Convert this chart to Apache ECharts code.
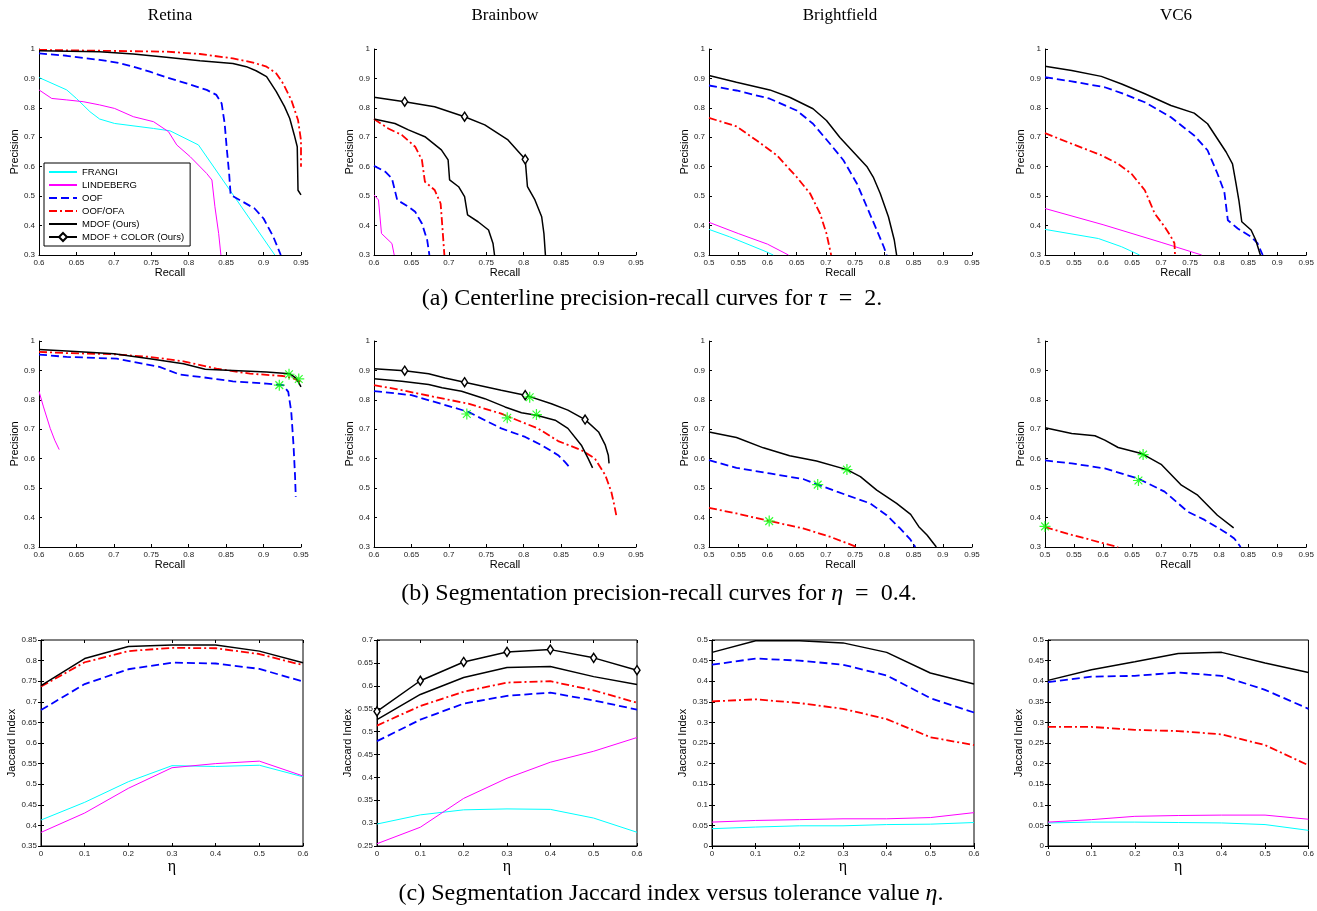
<!DOCTYPE html>
<html>
<head>
<meta charset="utf-8">
<script src="https://cdn.jsdelivr.net/npm/echarts@6/dist/echarts.min.js"></script>
<style>
  html, body { margin: 0; padding: 0; background: #fff; }
  #chart { width: 1317px; height: 911px; }
</style>
</head>
<body>
<div id="chart"></div>
<script>
// ---- row (a): centerline precision-recall, [recall, precision] ----
const retinaA_frangi = [[0.6,0.903],[0.637,0.861],[0.65,0.832],[0.668,0.787],[0.681,0.762],[0.701,0.747],[0.753,0.730],[0.775,0.722],[0.813,0.674],[0.86,0.502],[0.915,0.3]]
const retinaA_lindeberg = [[0.6,0.861],[0.617,0.832],[0.637,0.827],[0.659,0.821],[0.681,0.810],[0.701,0.798],[0.726,0.770],[0.753,0.753],[0.773,0.719],[0.784,0.674],[0.802,0.634],[0.824,0.577],[0.831,0.555],[0.835,0.464],[0.84,0.373],[0.843,0.3]]
const retinaA_oof = [[0.6,0.985],[0.637,0.977],[0.681,0.963],[0.704,0.954],[0.726,0.940],[0.748,0.923],[0.77,0.904],[0.797,0.883],[0.824,0.861],[0.837,0.844],[0.844,0.815],[0.848,0.747],[0.851,0.657],[0.854,0.577],[0.856,0.504],[0.868,0.487],[0.888,0.458],[0.9,0.424],[0.913,0.362],[0.923,0.3]]
const retinaA_oofofa = [[0.6,0.997],[0.681,0.994],[0.77,0.991],[0.815,0.983],[0.859,0.968],[0.886,0.954],[0.904,0.940],[0.917,0.917],[0.926,0.883],[0.937,0.827],[0.946,0.759],[0.95,0.69],[0.95,0.6]]
const retinaA_mdof = [[0.6,0.994],[0.681,0.991],[0.726,0.983],[0.77,0.972],[0.815,0.960],[0.859,0.951],[0.877,0.94],[0.89,0.926],[0.904,0.906],[0.917,0.855],[0.928,0.804],[0.935,0.764],[0.941,0.708],[0.945,0.668],[0.946,0.52],[0.95,0.504]]

const brainbowA_lindeberg = [[0.6,0.504],[0.606,0.487],[0.61,0.373],[0.624,0.339],[0.627,0.3]]
const brainbowA_oof = [[0.6,0.603],[0.615,0.583],[0.624,0.560],[0.631,0.487],[0.646,0.464],[0.655,0.447],[0.664,0.407],[0.671,0.351],[0.674,0.3]]
const brainbowA_oofofa = [[0.6,0.762],[0.619,0.730],[0.637,0.708],[0.655,0.668],[0.664,0.623],[0.668,0.549],[0.681,0.521],[0.689,0.475],[0.691,0.407],[0.694,0.3]]
const brainbowA_mdof = [[0.6,0.762],[0.628,0.747],[0.646,0.725],[0.668,0.702],[0.69,0.657],[0.699,0.623],[0.701,0.555],[0.713,0.532],[0.721,0.498],[0.725,0.436],[0.739,0.413],[0.753,0.385],[0.759,0.339],[0.761,0.3]]
const brainbowA_mdofColor = [[0.6,0.836],[0.641,0.821],[0.681,0.804],[0.721,0.770],[0.748,0.742],[0.779,0.691],[0.802,0.625],[0.805,0.532],[0.815,0.487],[0.824,0.430],[0.827,0.373],[0.829,0.3]]
const brainbowA_marks = [1, 3, 6]

const brightA_frangi = [[0.5,0.387],[0.535,0.362],[0.598,0.311],[0.61,0.3]]
const brightA_lindeberg = [[0.5,0.411],[0.55,0.373],[0.6,0.337],[0.636,0.3]]
const brightA_oof = [[0.5,0.876],[0.547,0.859],[0.604,0.831],[0.65,0.791],[0.678,0.746],[0.707,0.678],[0.730,0.622],[0.753,0.543],[0.770,0.464],[0.787,0.385],[0.799,0.328],[0.804,0.3]]
const brightA_oofofa = [[0.5,0.766],[0.547,0.737],[0.581,0.690],[0.616,0.639],[0.65,0.565],[0.673,0.509],[0.69,0.441],[0.701,0.373],[0.709,0.3]]
const brightA_mdof = [[0.5,0.910],[0.547,0.887],[0.604,0.861],[0.638,0.836],[0.678,0.797],[0.701,0.757],[0.724,0.699],[0.747,0.650],[0.77,0.601],[0.781,0.565],[0.793,0.509],[0.807,0.430],[0.817,0.351],[0.821,0.3]]

const vc6A_frangi = [[0.5,0.387],[0.592,0.356],[0.632,0.328],[0.663,0.3]]
const vc6A_lindeberg = [[0.5,0.458],[0.6,0.403],[0.7,0.343],[0.77,0.3]]
const vc6A_oof = [[0.5,0.904],[0.546,0.890],[0.603,0.870],[0.632,0.850],[0.672,0.819],[0.717,0.768],[0.757,0.706],[0.78,0.656],[0.797,0.577],[0.809,0.514],[0.815,0.418],[0.832,0.390],[0.855,0.362],[0.866,0.340],[0.875,0.3]]
const vc6A_oofofa = [[0.5,0.714],[0.546,0.678],[0.597,0.639],[0.626,0.610],[0.649,0.576],[0.672,0.520],[0.689,0.441],[0.706,0.396],[0.717,0.362],[0.723,0.340],[0.724,0.3]]
const vc6A_mdof = [[0.5,0.941],[0.546,0.927],[0.597,0.907],[0.632,0.881],[0.672,0.848],[0.717,0.808],[0.757,0.782],[0.78,0.746],[0.797,0.695],[0.812,0.650],[0.823,0.610],[0.829,0.543],[0.834,0.486],[0.839,0.413],[0.855,0.385],[0.863,0.351],[0.871,0.3]]

// ---- row (b): segmentation precision-recall ----
const retinaB_lindeberg = [[0.6,0.829],[0.606,0.776],[0.615,0.703],[0.621,0.663],[0.627,0.631]]
const retinaB_oof = [[0.6,0.954],[0.637,0.946],[0.704,0.940],[0.726,0.929],[0.761,0.912],[0.788,0.886],[0.815,0.878],[0.859,0.863],[0.904,0.855],[0.926,0.85],[0.933,0.827],[0.937,0.759],[0.94,0.646],[0.942,0.544],[0.943,0.471]]
const retinaB_oofofa = [[0.6,0.963],[0.637,0.959],[0.7,0.955],[0.748,0.946],[0.793,0.931],[0.837,0.906],[0.882,0.889],[0.926,0.881],[0.939,0.874],[0.95,0.861]]
const retinaB_mdof = [[0.6,0.971],[0.637,0.966],[0.7,0.957],[0.748,0.94],[0.793,0.923],[0.822,0.904],[0.859,0.9],[0.904,0.895],[0.935,0.889],[0.944,0.872],[0.95,0.844]]
const retinaB_stars = [[0.934,0.887],[0.947,0.871],[0.921,0.85]]

const brainbowB_oof = [[0.6,0.830],[0.65,0.816],[0.681,0.793],[0.726,0.759],[0.77,0.703],[0.802,0.674],[0.824,0.646],[0.846,0.612],[0.855,0.589],[0.862,0.569]]
const brainbowB_oofofa = [[0.6,0.850],[0.637,0.833],[0.681,0.81],[0.726,0.787],[0.77,0.753],[0.797,0.725],[0.819,0.703],[0.846,0.66],[0.877,0.629],[0.895,0.601],[0.909,0.544],[0.917,0.488],[0.921,0.442],[0.924,0.403]]
const brainbowB_mdof = [[0.6,0.872],[0.637,0.863],[0.673,0.852],[0.691,0.841],[0.717,0.829],[0.748,0.804],[0.775,0.776],[0.797,0.756],[0.817,0.748],[0.842,0.731],[0.859,0.703],[0.877,0.646],[0.886,0.601],[0.892,0.569]]
const brainbowB_mdofColor = [[0.6,0.906],[0.641,0.899],[0.673,0.889],[0.695,0.874],[0.721,0.86],[0.77,0.833],[0.802,0.816],[0.837,0.787],[0.859,0.765],[0.882,0.733],[0.9,0.691],[0.909,0.646],[0.913,0.612],[0.914,0.584]]
const brainbowB_marks = [1, 4, 6, 9]
const brainbowB_stars = [[0.724,0.752],[0.778,0.739],[0.817,0.75],[0.808,0.809]]

const brightB_oof = [[0.5,0.595],[0.547,0.569],[0.604,0.550],[0.661,0.531],[0.686,0.512],[0.719,0.488],[0.776,0.448],[0.804,0.408],[0.827,0.363],[0.844,0.327],[0.853,0.3]]
const brightB_oofofa = [[0.5,0.433],[0.547,0.414],[0.604,0.388],[0.661,0.363],[0.707,0.335],[0.753,0.3]]
const brightB_mdof = [[0.5,0.691],[0.547,0.672],[0.593,0.637],[0.638,0.610],[0.684,0.592],[0.736,0.563],[0.759,0.539],[0.787,0.493],[0.821,0.448],[0.845,0.411],[0.859,0.369],[0.873,0.341],[0.889,0.3]]
const brightB_stars = [[0.736,0.563],[0.686,0.512],[0.603,0.388]]

const vc6B_oof = [[0.5,0.594],[0.546,0.584],[0.603,0.567],[0.66,0.533],[0.706,0.488],[0.746,0.42],[0.775,0.392],[0.809,0.352],[0.826,0.329],[0.837,0.3]]
const vc6B_oofofa = [[0.5,0.368],[0.546,0.341],[0.626,0.3]]
const vc6B_mdof = [[0.5,0.705],[0.546,0.686],[0.586,0.678],[0.603,0.663],[0.626,0.638],[0.666,0.618],[0.7,0.581],[0.735,0.510],[0.763,0.476],[0.797,0.408],[0.825,0.365]]
const vc6B_stars = [[0.669,0.614],[0.661,0.526],[0.5,0.37]]

// ---- row (c): jaccard index vs eta ----
const eta = [0, 0.1, 0.2, 0.3, 0.4, 0.5, 0.6]
const retinaC_frangi = [0.413, 0.456, 0.506, 0.545, 0.543, 0.546, 0.518]
const retinaC_lindeberg = [0.383, 0.430, 0.490, 0.540, 0.550, 0.556, 0.520]
const retinaC_oof = [0.680, 0.743, 0.779, 0.795, 0.793, 0.780, 0.749]
const retinaC_oofofa = [0.737, 0.796, 0.823, 0.831, 0.830, 0.816, 0.789]
const retinaC_mdof = [0.739, 0.805, 0.834, 0.838, 0.838, 0.823, 0.795]

const brainbowC_frangi = [0.298, 0.318, 0.329, 0.331, 0.330, 0.311, 0.280]
const brainbowC_lindeberg = [0.255, 0.291, 0.354, 0.398, 0.433, 0.457, 0.487]
const brainbowC_oof = [0.479, 0.526, 0.561, 0.578, 0.585, 0.568, 0.548]
const brainbowC_oofofa = [0.513, 0.556, 0.587, 0.607, 0.610, 0.590, 0.563]
const brainbowC_mdof = [0.526, 0.581, 0.618, 0.640, 0.642, 0.620, 0.603]
const brainbowC_mdofColor = [0.544, 0.611, 0.652, 0.674, 0.679, 0.661, 0.634]

const brightC_frangi = [0.042, 0.046, 0.049, 0.049, 0.052, 0.053, 0.057]
const brightC_lindeberg = [0.058, 0.062, 0.064, 0.066, 0.066, 0.069, 0.081]
const brightC_oof = [0.440, 0.455, 0.450, 0.440, 0.414, 0.359, 0.324]
const brightC_oofofa = [0.351, 0.356, 0.347, 0.333, 0.308, 0.264, 0.245]
const brightC_mdof = [0.470, 0.498, 0.498, 0.493, 0.470, 0.420, 0.393]

const vc6C_frangi = [0.056, 0.058, 0.058, 0.057, 0.056, 0.052, 0.038]
const vc6C_lindeberg = [0.058, 0.064, 0.072, 0.074, 0.075, 0.075, 0.065]
const vc6C_oof = [0.398, 0.411, 0.413, 0.421, 0.413, 0.379, 0.333]
const vc6C_oofofa = [0.289, 0.289, 0.282, 0.279, 0.271, 0.245, 0.196]
const vc6C_mdof = [0.402, 0.428, 0.447, 0.467, 0.470, 0.444, 0.421]

const columnTitles = ['Retina', 'Brainbow', 'Brightfield', 'VC6']

// ---------------------------------------------------------------

const SANS = '"Liberation Sans", Arial, sans-serif'
const SERIF = '"Liberation Serif", "Times New Roman", serif'

const NAMES = {
  frangi: 'FRANGI',
  lindeberg: 'LINDEBERG',
  oof: 'OOF',
  oofofa: 'OOF/OFA',
  mdof: 'MDOF (Ours)',
  mdofColor: 'MDOF + COLOR (Ours)'
}
const LINE = {
  frangi: { color: '#00ffff', width: 1, type: 'solid' },
  lindeberg: { color: '#ff00ff', width: 1, type: 'solid' },
  oof: { color: '#0000ff', width: 1.8, type: [8, 4] },
  oofofa: { color: '#ff0000', width: 1.8, type: [8, 3, 2, 3] },
  mdof: { color: '#000000', width: 1.5, type: 'solid' },
  mdofColor: { color: '#000000', width: 1.5, type: 'solid' }
}

// grid boxes [left, top, width, height]
const gridBoxes = [
  [39, 49, 262, 206], [374, 49, 262, 206], [709, 49, 263, 206], [1045, 49, 262, 206],
  [39, 341, 262, 206], [374, 341, 262, 206], [709, 341, 263, 206], [1045, 341, 262, 206],
  [41, 640, 262, 206], [377, 640, 260, 206], [712, 640, 262, 206], [1048, 640, 261, 206]
]
const xRanges = [
  [0.6, 0.95, 0.05], [0.6, 0.95, 0.05], [0.5, 0.95, 0.05], [0.5, 0.95, 0.05],
  [0.6, 0.95, 0.05], [0.6, 0.95, 0.05], [0.5, 0.95, 0.05], [0.5, 0.95, 0.05],
  [0, 0.6, 0.1], [0, 0.6, 0.1], [0, 0.6, 0.1], [0, 0.6, 0.1]
]
const yRanges = [
  [0.3, 1, 0.1], [0.3, 1, 0.1], [0.3, 1, 0.1], [0.3, 1, 0.1],
  [0.3, 1, 0.1], [0.3, 1, 0.1], [0.3, 1, 0.1], [0.3, 1, 0.1],
  [0.35, 0.85, 0.05], [0.25, 0.7, 0.05], [0, 0.5, 0.05], [0, 0.5, 0.05]
]

const grids = gridBoxes.map((b, i) => ({
  left: b[0], top: b[1], width: b[2], height: b[3],
  show: i >= 8, borderColor: '#000', borderWidth: 1, backgroundColor: 'transparent'
}))

const axisLabel = { fontSize: 8, fontFamily: SANS, color: '#222', margin: 4, showMinLabel: true, showMaxLabel: true }
const axisLine = { show: true, onZero: false, lineStyle: { color: '#000', width: 1 } }
const axisTick = { show: true, inside: true, length: 3, lineStyle: { color: '#000', width: 1 } }

const xAxes = xRanges.map((r, i) => ({
  type: 'value', gridIndex: i, min: r[0], max: r[1], interval: r[2],
  axisLine, axisTick, axisLabel, splitLine: { show: false },
  name: i >= 8 ? 'η' : 'Recall', nameLocation: 'middle',
  nameGap: i >= 8 ? 10 : 12,
  nameTextStyle: i >= 8
    ? { fontFamily: SERIF, fontSize: 16, color: '#000' }
    : { fontFamily: SANS, fontSize: 11, color: '#000' }
}))
const yAxes = yRanges.map((r, i) => ({
  type: 'value', gridIndex: i, min: r[0], max: r[1], interval: r[2],
  axisLine, axisTick, axisLabel, splitLine: { show: false },
  name: i >= 8 ? 'Jaccard Index' : 'Precision', nameLocation: 'middle',
  nameGap: i >= 8 ? 21 : 18,
  nameTextStyle: { fontFamily: SANS, fontSize: 11, color: '#000' }
}))
// box ticks on top / right for row (c)
for (let i = 8; i < 12; i++) {
  xAxes.push({ type: 'value', gridIndex: i, position: 'top', min: xRanges[i][0], max: xRanges[i][1], interval: xRanges[i][2],
    axisLine: { show: false }, axisTick, axisLabel: { show: false }, splitLine: { show: false } })
  yAxes.push({ type: 'value', gridIndex: i, position: 'right', min: yRanges[i][0], max: yRanges[i][1], interval: yRanges[i][2],
    axisLine: { show: false }, axisTick, axisLabel: { show: false }, splitLine: { show: false } })
}

function line(key, data, g, marks) {
  const s = {
    type: 'line', name: NAMES[key], xAxisIndex: g, yAxisIndex: g,
    lineStyle: LINE[key], symbol: 'none', animation: false, silent: true,
    itemStyle: { color: LINE[key].color }, z: 3
  }
  if (key === 'mdofColor') {
    s.symbol = 'diamond'
    s.symbolSize = [6, 9]
    s.showSymbol = true
    s.showAllSymbol = true
    s.itemStyle = { color: '#fff', borderColor: '#000', borderWidth: 1.5 }
    s.data = data.map((p, i) => (!marks || marks.includes(i)) ? { value: p } : { value: p, symbol: 'none' })
  } else {
    s.data = data
  }
  return s
}
const STAR = 'path://M-1.1,-10L1.1,-10L1.1,10L-1.1,10Z M-10,-1.1L10,-1.1L10,1.1L-10,1.1Z M-6.3,-7.8L7.8,6.3L6.3,7.8L-7.8,-6.3Z M-7.8,6.3L6.3,-7.8L7.8,-6.3L-6.3,7.8Z'
function stars(data, g) {
  return { type: 'scatter', name: 'best', xAxisIndex: g, yAxisIndex: g, data,
    symbol: STAR, symbolSize: 11, itemStyle: { color: '#00ff00' }, z: 5, animation: false, silent: true }
}
const pairs = vals => eta.map((e, i) => [e, vals[i]])

const series = [
  line('frangi', retinaA_frangi, 0), line('lindeberg', retinaA_lindeberg, 0), line('oof', retinaA_oof, 0),
  line('oofofa', retinaA_oofofa, 0), line('mdof', retinaA_mdof, 0),

  line('lindeberg', brainbowA_lindeberg, 1), line('oof', brainbowA_oof, 1), line('oofofa', brainbowA_oofofa, 1),
  line('mdof', brainbowA_mdof, 1), line('mdofColor', brainbowA_mdofColor, 1, brainbowA_marks),

  line('frangi', brightA_frangi, 2), line('lindeberg', brightA_lindeberg, 2), line('oof', brightA_oof, 2),
  line('oofofa', brightA_oofofa, 2), line('mdof', brightA_mdof, 2),

  line('frangi', vc6A_frangi, 3), line('lindeberg', vc6A_lindeberg, 3), line('oof', vc6A_oof, 3),
  line('oofofa', vc6A_oofofa, 3), line('mdof', vc6A_mdof, 3),

  line('lindeberg', retinaB_lindeberg, 4), line('oof', retinaB_oof, 4), line('oofofa', retinaB_oofofa, 4),
  line('mdof', retinaB_mdof, 4), stars(retinaB_stars, 4),

  line('oof', brainbowB_oof, 5), line('oofofa', brainbowB_oofofa, 5), line('mdof', brainbowB_mdof, 5),
  line('mdofColor', brainbowB_mdofColor, 5, brainbowB_marks), stars(brainbowB_stars, 5),

  line('oof', brightB_oof, 6), line('oofofa', brightB_oofofa, 6), line('mdof', brightB_mdof, 6), stars(brightB_stars, 6),

  line('oof', vc6B_oof, 7), line('oofofa', vc6B_oofofa, 7), line('mdof', vc6B_mdof, 7), stars(vc6B_stars, 7),

  line('frangi', pairs(retinaC_frangi), 8), line('lindeberg', pairs(retinaC_lindeberg), 8), line('oof', pairs(retinaC_oof), 8),
  line('oofofa', pairs(retinaC_oofofa), 8), line('mdof', pairs(retinaC_mdof), 8),

  line('frangi', pairs(brainbowC_frangi), 9), line('lindeberg', pairs(brainbowC_lindeberg), 9), line('oof', pairs(brainbowC_oof), 9),
  line('oofofa', pairs(brainbowC_oofofa), 9), line('mdof', pairs(brainbowC_mdof), 9), line('mdofColor', pairs(brainbowC_mdofColor), 9),

  line('frangi', pairs(brightC_frangi), 10), line('lindeberg', pairs(brightC_lindeberg), 10), line('oof', pairs(brightC_oof), 10),
  line('oofofa', pairs(brightC_oofofa), 10), line('mdof', pairs(brightC_mdof), 10),

  line('frangi', pairs(vc6C_frangi), 11), line('lindeberg', pairs(vc6C_lindeberg), 11), line('oof', pairs(vc6C_oof), 11),
  line('oofofa', pairs(vc6C_oofofa), 11), line('mdof', pairs(vc6C_mdof), 11)
]

const colCenters = [170, 505, 840, 1176]
const titles = columnTitles.map((t, i) => ({
  text: t, left: colCenters[i], top: 7, textAlign: 'center', padding: 0,
  textStyle: { fontFamily: SERIF, fontSize: 17, fontWeight: 'normal', color: '#000' }
}))
const capStyle = { fontFamily: SERIF, fontSize: 24, color: '#000' }
const capRich = { i: { ...capStyle, fontStyle: 'italic' }, n: capStyle }
const captions = [
  ['{n|(a) Centerline precision-recall curves for }{i|τ}{n|  =  2.}', 652, 287],
  ['{n|(b) Segmentation precision-recall curves for }{i|η}{n|  =  0.4.}', 659, 582],
  ['{n|(c) Segmentation Jaccard index versus tolerance value }{i|η}{n|.}', 671, 882]
].map(c => ({
  text: c[0], left: c[1], top: c[2], textAlign: 'center', padding: 0,
  textStyle: { ...capStyle, fontWeight: 'normal', rich: capRich }
}))

// legend: plain curves show only their line, the colour curve keeps its diamond
const legendData = Object.keys(NAMES).map(k => k === 'mdofColor'
  ? { name: NAMES[k] }
  : { name: NAMES[k], itemStyle: { opacity: 0 } })

const chart = echarts.init(document.getElementById('chart'))
chart.setOption({
  backgroundColor: '#fff',
  animation: false,
  title: titles.concat(captions),
  legend: {
    data: legendData,
    orient: 'vertical', left: 44, top: 163,
    padding: [4, 6, 4, 4], itemGap: 3, itemWidth: 28, itemHeight: 10,
    backgroundColor: '#fff', borderColor: '#000', borderWidth: 1,
    selectedMode: false,
    textStyle: { fontFamily: SANS, fontSize: 9.5, color: '#000' }
  },
  grid: grids,
  xAxis: xAxes,
  yAxis: yAxes,
  series
})
</script>
</body>
</html>
